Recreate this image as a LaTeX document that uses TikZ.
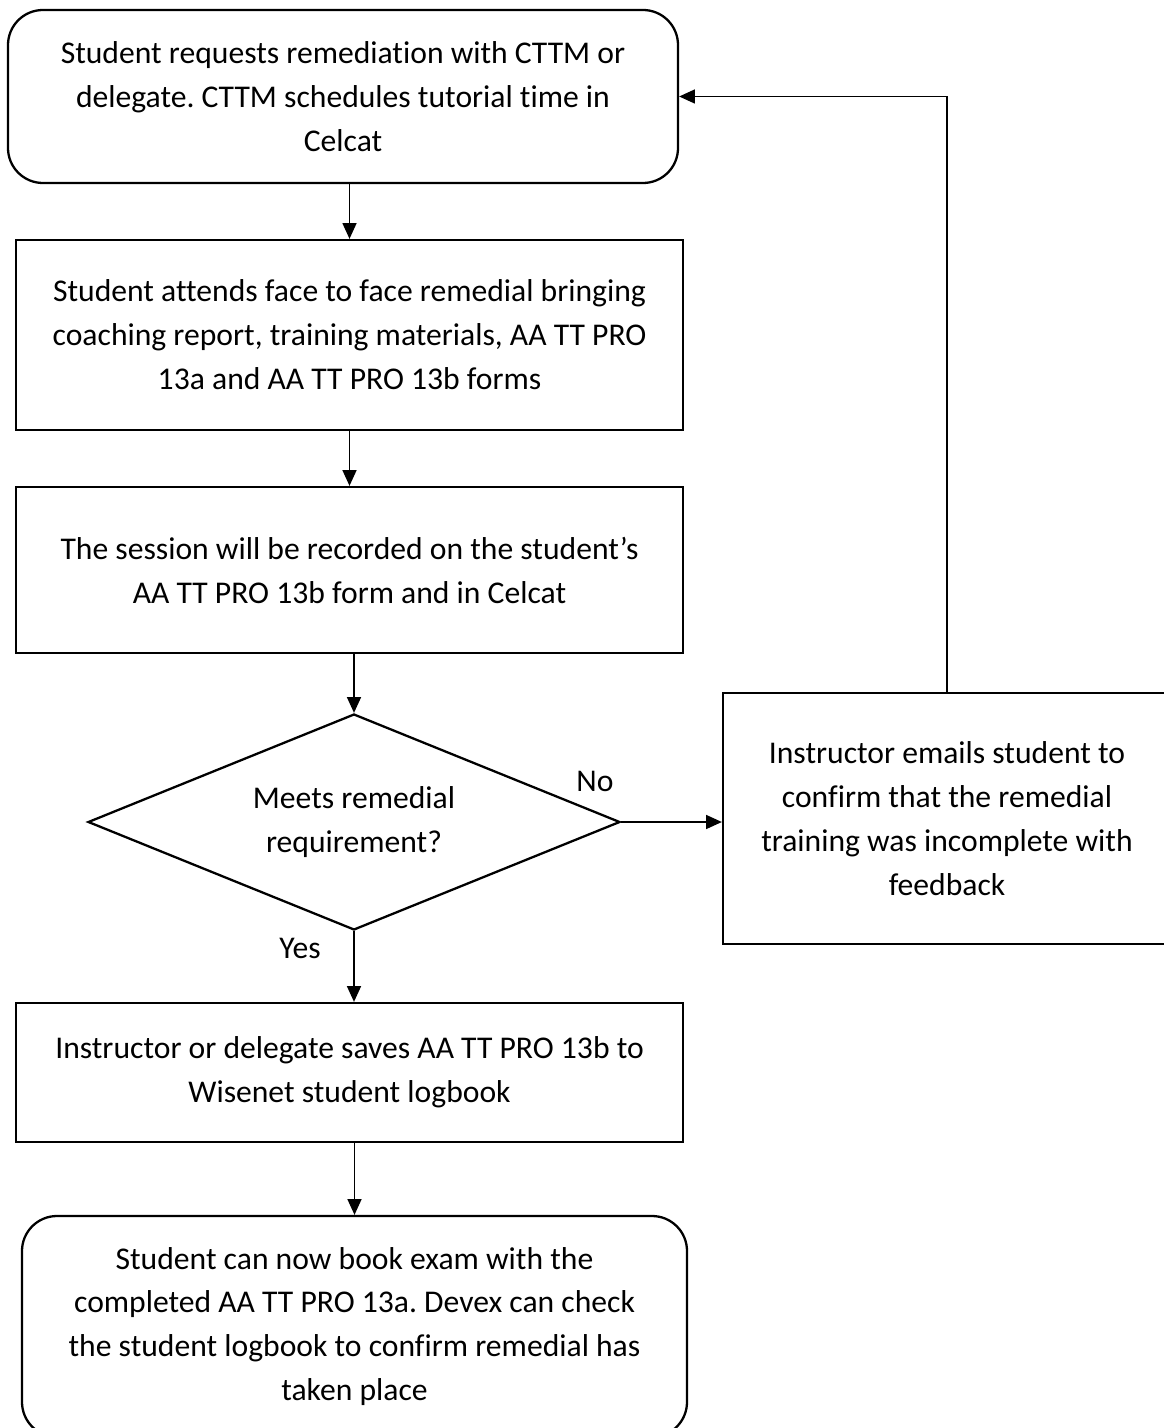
\documentclass[tikz,border=0pt]{standalone}
\usepackage{fontspec}
\setmainfont[Ligatures=NoCommon]{Carlito}
\usetikzlibrary{shapes.geometric,arrows.meta}
\frenchspacing

\tikzset{
  box/.style={draw=black,line width=1.3pt,align=center,inner sep=0pt},
  roundbox/.style={box,rounded corners=.7cm},
  decision/.style={draw=black,line width=1.3pt,diamond,aspect=2.46,align=center,inner sep=0pt},
  arr/.style={line width=.8pt,-{Triangle[length=9pt,width=8pt]}},
  lbl/.style={inner sep=0pt}
}

\begin{document}
\begin{tikzpicture}[font=\fontsize{18}{25}\selectfont]
\useasboundingbox (0,0) rectangle (23.26,-28.56);
\node[roundbox,minimum width=13.4cm,minimum height=3.46cm] (request) at (6.86,-1.93) {Student requests remediation with CTTM or\\delegate. CTTM schedules tutorial time in\\Celcat};
\node[box,minimum width=13.34cm,minimum height=3.8cm] (attend) at (6.99,-6.7) {Student attends face to face remedial bringing\\coaching report, training materials, AA TT PRO\\13a and AA TT PRO 13b forms};
\node[box,minimum width=13.34cm,minimum height=3.32cm] (record) at (6.99,-11.4) {The session will be recorded on the student’s\\AA TT PRO 13b form and in Celcat};
\node[decision,minimum width=10.64cm,minimum height=4.32cm] (check) at (7.08,-16.44) {Meets remedial\\requirement?};
\node[box,minimum width=8.96cm,minimum height=5.02cm] (fail) at (18.94,-16.37) {Instructor emails student to\\confirm that the remedial\\training was incomplete with\\feedback};
\node[box,minimum width=13.34cm,minimum height=2.78cm] (save) at (6.99,-21.45) {Instructor or delegate saves AA TT PRO 13b to\\Wisenet student logbook};
\node[roundbox,minimum width=13.3cm,minimum height=4.42cm] (done) at (7.09,-26.53) {Student can now book exam with the\\completed AA TT PRO 13a. Devex can check\\the student logbook to confirm remedial has\\taken place};
% connectors
\draw[arr] (request.south -| attend.north) -- (attend.north);
\draw[arr] (attend.south) -- (record.north);
\draw[arr] (record.south -| check.north) -- (check.north);
\draw[arr] (check.east) -- (check.east -| fail.west);
\draw[arr] (fail.north) |- (request.east);
\draw[arr] (check.south) -- (check.south |- save.north);
\draw[arr] (save.south -| done.north) -- (done.north);
% branch labels
\node[lbl] (no) at (11.9,-15.62) {No};
\node[lbl] (yes) at (6.0,-18.96) {Yes};
\end{tikzpicture}
\end{document}
